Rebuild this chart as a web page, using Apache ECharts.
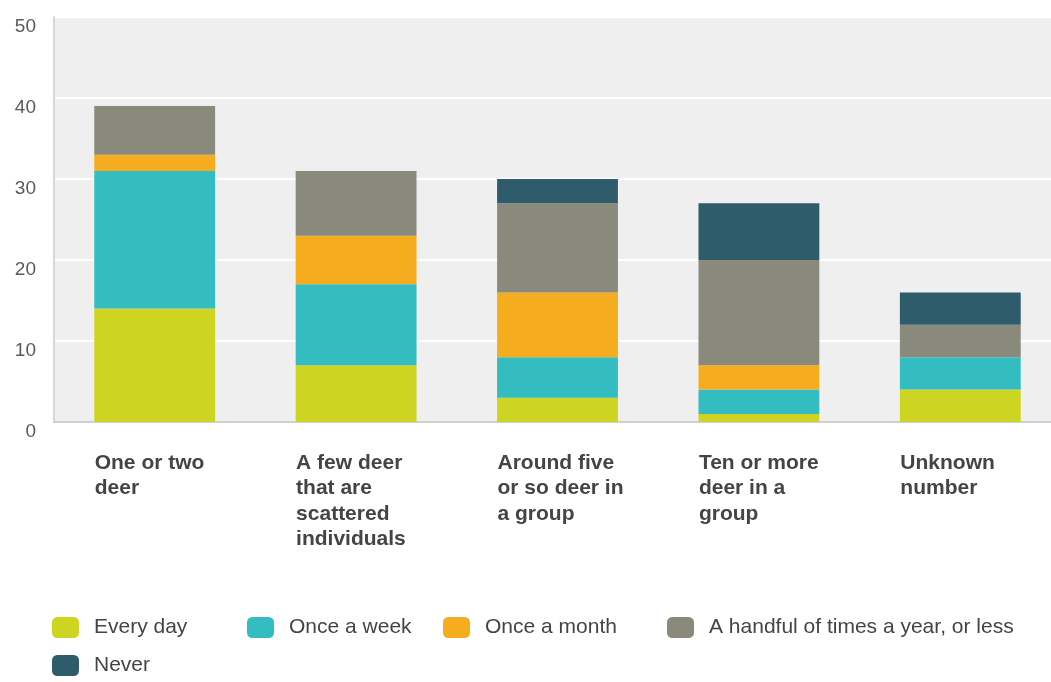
<!DOCTYPE html>
<html>
<head>
<meta charset="utf-8">
<script src="https://cdn.jsdelivr.net/npm/echarts@6/dist/echarts.min.js"></script>
<style>
  html, body { margin: 0; padding: 0; background: #fff; overflow: hidden; }
  /* a bit wider than the window: the plot runs off the right edge in the picture */
  #chart { width: 1062px; height: 682px; }
</style>
</head>
<body>
<div id="chart"></div>
<script>
// categories (line breaks as in the picture)
var categories = [
    'One or two\ndeer',
    'A few deer\nthat are\nscattered\nindividuals',
    'Around five\nor so deer in\na group',
    'Ten or more\ndeer in a\ngroup',
    'Unknown\nnumber'
];
var seriesNames = ['Every day', 'Once a week', 'Once a month', 'A handful of times a year, or less', 'Never'];
var everyDay = [14, 7, 3, 1, 4];
var onceWeek = [17, 10, 5, 3, 4];
var onceMonth = [2, 6, 8, 3, 0];
var handful = [6, 8, 11, 13, 4];
var never = [0, 0, 3, 7, 4];
var yTicks = [0, 10, 20, 30, 40, 50];

var colors = ['#cdd421', '#33bdc0', '#f5ad1f', '#898a7b', '#2e5c6b'];
var values = [everyDay, onceWeek, onceMonth, handful, never];

var myChart = echarts.init(document.getElementById('chart'));

var series = [];
for (var i = 0; i < seriesNames.length; i++) {
    series.push({
        name: seriesNames[i],
        type: 'bar',
        stack: 'total',
        barWidth: '60%',
        itemStyle: { color: colors[i] },
        data: values[i]
    });
}

// one legend per item so the gaps follow the picture
var legendLeft = [52, 247, 443, 667, 52];
var legendTop = [617, 617, 617, 617, 655];
var legends = [];
for (var j = 0; j < seriesNames.length; j++) {
    legends.push({
        data: [seriesNames[j]],
        left: legendLeft[j],
        top: legendTop[j],
        padding: 0,
        itemWidth: 27,
        itemHeight: 21,
        icon: 'roundRect',
        textStyle: { fontSize: 21, color: '#444', padding: [0, 0, 0, 10] }
    });
}

myChart.setOption({
    animation: false,
    textStyle: { fontFamily: 'Liberation Sans' },
    grid: {
        left: 54,
        top: 17,
        width: 1007,
        height: 405,
        show: true,
        backgroundColor: '#efefef',
        borderWidth: 0
    },
    legend: legends,
    xAxis: {
        type: 'category',
        data: categories,
        axisTick: { show: false },
        axisLine: { lineStyle: { color: '#d0d0d0', width: 2 } },
        axisLabel: {
            interval: 0,
            align: 'left',
            verticalAlign: 'top',
            margin: 28,
            padding: [0, 0, 0, -60],
            fontSize: 21,
            fontWeight: 'bold',
            lineHeight: 25.5,
            color: '#444'
        }
    },
    yAxis: {
        type: 'value',
        min: yTicks[0],
        max: yTicks[yTicks.length - 1],
        interval: 10,
        axisLine: { show: true, lineStyle: { color: '#d8d8d8', width: 2 } },
        axisTick: { show: false },
        splitLine: { lineStyle: { color: '#ffffff', width: 2 } },
        axisLabel: {
            margin: 18,
            fontSize: 19,
            color: '#5a5a5a',
            verticalAlign: 'top'
        }
    },
    series: series
});
</script>
</body>
</html>
